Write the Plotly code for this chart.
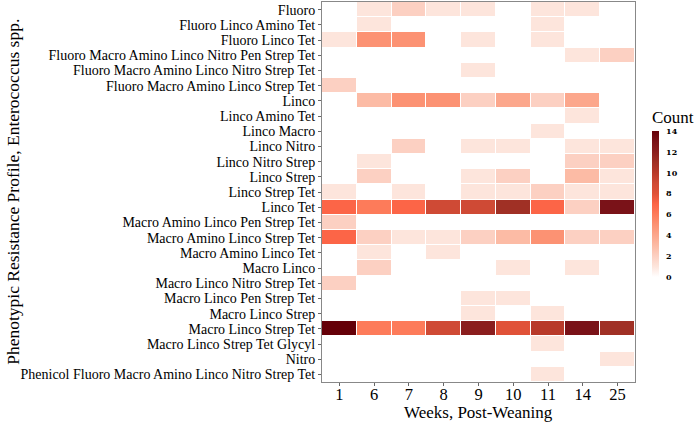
import plotly.graph_objects as go
import numpy as np

weeks = ["1", "6", "7", "8", "9", "10", "11", "14", "25"]
profiles = [
    "Fluoro", "Fluoro Linco Amino Tet", "Fluoro Linco Tet",
    "Fluoro Macro Amino Linco Nitro Pen Strep Tet",
    "Fluoro Macro Amino Linco Nitro Strep Tet",
    "Fluoro Macro Amino Linco Strep Tet", "Linco", "Linco Amino Tet",
    "Linco Macro", "Linco Nitro", "Linco Nitro Strep", "Linco Strep",
    "Linco Strep Tet", "Linco Tet", "Macro Amino Linco Pen Strep Tet",
    "Macro Amino Linco Strep Tet", "Macro Amino Linco Tet", "Macro Linco",
    "Macro Linco Nitro Strep Tet", "Macro Linco Pen Strep Tet",
    "Macro Linco Strep", "Macro Linco Strep Tet",
    "Macro Linco Strep Tet Glycyl", "Nitro",
    "Phenicol Fluoro Macro Amino Linco Nitro Strep Tet",
]
N = None
counts = [
    [N, 1, 2, 1, 1, N, 1, 1, N],
    [N, 1, N, N, N, N, 1, N, N],
    [1, 5, 5, N, 1, N, 1, N, N],
    [N, N, N, N, N, N, N, 1, 2],
    [N, N, N, N, 1, N, N, N, N],
    [2, N, N, N, N, N, N, N, N],
    [N, 3, 5, 5, 2, 4, 2, 4, N],
    [N, N, N, N, N, N, N, 1, N],
    [N, N, N, N, N, N, 1, N, N],
    [N, N, 2, N, 1, 1, N, 1, 1],
    [N, 1, N, N, N, N, N, 2, 2],
    [N, 2, N, N, 1, 2, N, 3, 1],
    [1, N, 1, N, 1, 1, 2, 1, 1],
    [7, 6, 7, 9, 9, 11, 7, 2, 13],
    [2, N, N, N, N, N, N, N, N],
    [7, 2, 1, 1, 2, 3, 5, 2, 2],
    [N, 1, N, 1, N, N, N, N, N],
    [N, 2, N, N, N, 1, N, 1, N],
    [2, N, N, N, N, N, N, N, N],
    [N, N, N, N, 1, 1, N, N, N],
    [N, N, N, N, 1, N, 1, N, N],
    [14, 6, 6, 9, 12, 8, 10, 13, 11],
    [N, N, N, N, N, N, 1, N, N],
    [N, N, N, N, N, N, N, N, 1],
    [N, N, N, N, N, N, 1, N, N],
]
z = np.array([[np.nan if v is None else v for v in row] for row in counts], dtype=float)

color_stops = [
    (0, "#ffffff"), (1, "#fde5dc"), (2, "#fcd0c2"), (3, "#fcbba5"),
    (5, "#fc9273"), (6, "#fd7b5a"), (7, "#fc6547"), (8, "#e05238"),
    (9, "#cf4a35"), (10, "#b83a2a"), (11, "#a03025"), (12, "#8b1e1e"),
    (13, "#7a1218"), (14, "#650008"),
]
ZMAX = 14
colorscale = [[v / ZMAX, c] for v, c in color_stops]

FONT = "Liberation Serif"
fig = go.Figure(go.Heatmap(
    z=z, x=weeks, y=profiles, colorscale=colorscale, zmin=0, zmax=ZMAX,
    xgap=1, ygap=1, hoverongaps=False,
    colorbar=dict(
        title=dict(text="Count", side="top", font=dict(family=FONT, size=17, color="black")),
        tickvals=[0, 2, 4, 6, 8, 10, 12, 14],
        tickfont=dict(family="DejaVu Serif", size=8, color="black", weight="bold"),
        thickness=7, len=170, lenmode="pixels", y=0.5, yanchor="middle",
        x=1.054, xanchor="left", outlinewidth=0,
        ticks="outside", ticklen=6, tickcolor="rgba(0,0,0,0)", xpad=0, ypad=0,
    ),
))
fig.update_layout(
    width=696, height=422,
    margin=dict(l=322, r=59, t=2, b=40),
    paper_bgcolor="white", plot_bgcolor="white",
    font=dict(family=FONT, color="black"),
    annotations=[
        dict(text="Weeks, Post-Weaning", xref="paper", yref="paper", x=0.5, y=-0.081,
             xanchor="center", yanchor="middle", showarrow=False,
             font=dict(family=FONT, size=17, color="black")),
        dict(text="Phenotypic Resistance Profile, Enterococcus spp.", xref="paper", yref="paper",
             x=-0.990, y=0.501, xanchor="center", yanchor="middle", textangle=-90,
             showarrow=False, font=dict(family=FONT, size=17.5, color="black")),
    ],
)
fig.update_xaxes(
    type="category", automargin=False, ticklabelstandoff=-6,
    tickfont=dict(family=FONT, size=16.5), ticks="outside", ticklen=3, tickcolor="#666",
    showline=True, linecolor="#888", mirror=True, showgrid=False,
)
fig.update_yaxes(
    type="category", autorange="reversed", dtick=1, automargin=False,
    tickfont=dict(family=FONT, size=14), ticks="outside", ticklen=3, tickcolor="#666",
    showline=True, linecolor="#888", mirror=True, showgrid=False,
)
fig.write_html("out.html", config={"displayModeBar": False},
               post_script="document.body.style.margin='0';document.body.style.overflow='hidden';")
